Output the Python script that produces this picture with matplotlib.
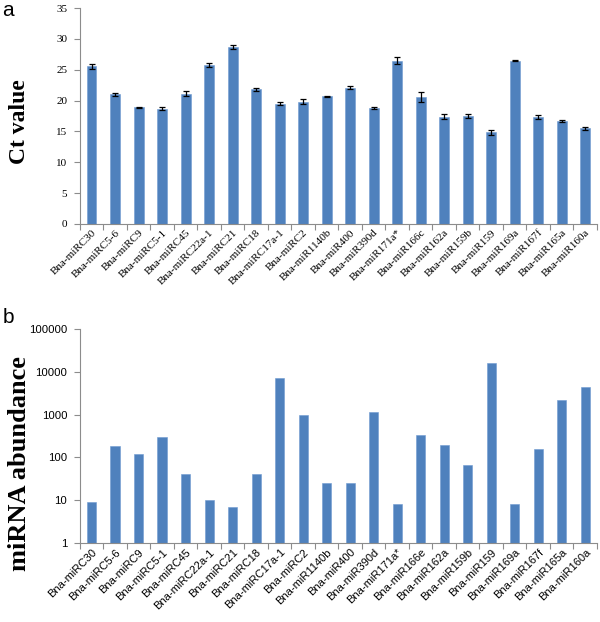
import numpy as np
import matplotlib
matplotlib.use('Agg')
import matplotlib.pyplot as plt

# panel a: Ct values from qRT-PCR
names_a = ['Bna-miRC30', 'Bna-miRC5-6', 'Bna-miRC9', 'Bna-miRC5-1', 'Bna-miRC45',
           'Bna-miRC22a-1', 'Bna-miRC21', 'Bna-miRC18', 'Bna-miRC17a-1', 'Bna-miRC2',
           'Bna-miR1140b', 'Bna-miR400', 'Bna-miR390d', 'Bna-miR171a*', 'Bna-miR166c',
           'Bna-miR162a', 'Bna-miR159b', 'Bna-miR159', 'Bna-miR169a', 'Bna-miR167f',
           'Bna-miR165a', 'Bna-miR160a']
ct = [25.6, 21.0, 18.9, 18.7, 21.1, 25.8, 28.7, 21.8, 19.5, 19.8, 20.7,
      22.1, 18.8, 26.5, 20.6, 17.4, 17.5, 14.9, 26.5, 17.3, 16.7, 15.5]
ct_err = [0.4, 0.3, 0.05, 0.3, 0.4, 0.3, 0.3, 0.2, 0.2, 0.4, 0.1,
          0.2, 0.1, 0.5, 0.8, 0.4, 0.3, 0.4, 0.05, 0.3, 0.15, 0.2]

# panel b: abundance from sequencing
names_b = ['Bna-miRC30', 'Bna-miRC5-6', 'Bna-miRC9', 'Bna-miRC5-1', 'Bna-miRC45',
           'Bna-miRC22a-1', 'Bna-miRC21', 'Bna-miRC18', 'Bna-miRC17a-1', 'Bna-miRC2',
           'Bna-miR1140b', 'Bna-miR400', 'Bna-miR390d', 'Bna-miR171a*', 'Bna-miR166e',
           'Bna-miR162a', 'Bna-miR159b', 'Bna-miR159', 'Bna-miR169a', 'Bna-miR167f',
           'Bna-miR165a', 'Bna-miR160a']
abundance = [9, 180, 120, 300, 42, 10, 7, 42, 7200, 1000, 25,
             25, 1150, 8, 330, 190, 67, 16500, 8, 160, 2200, 4500]

bar_color = '#4F81BD'
axis_color = '#8c8c8c'

fig = plt.figure(figsize=(6, 6.22), dpi=100)
ax1 = fig.add_axes([0.133, 0.640, 0.862, 0.347])
ax2 = fig.add_axes([0.133, 0.127, 0.862, 0.344])


def style_axis(ax, n):
    for s in ['top', 'right']:
        ax.spines[s].set_visible(False)
    for s in ['left', 'bottom']:
        ax.spines[s].set_color(axis_color)
        ax.spines[s].set_linewidth(0.8)
    ax.set_xlim(-0.5, n - 0.5)
    ax.set_xticks(np.arange(n))
    ax.set_xticks(np.arange(n + 1) - 0.5, minor=True)
    ax.tick_params(axis='x', which='major', length=0, pad=3)
    ax.tick_params(axis='x', which='minor', length=4, color=axis_color, width=0.8)
    ax.tick_params(axis='y', which='major', length=4, color=axis_color, width=0.8, pad=5)
    ax.tick_params(axis='y', which='minor', length=0)


x = np.arange(len(names_a))
ax1.bar(x, ct, width=0.42, color=bar_color, edgecolor='#6f9bd1', linewidth=0.4,
        yerr=ct_err, error_kw=dict(ecolor='black', elinewidth=0.9, capsize=2.2, capthick=0.9))
style_axis(ax1, len(names_a))
ax1.set_ylim(0, 35)
ax1.set_yticks(range(0, 36, 5))
ax1.set_xticklabels(names_a, rotation=45, ha='right', rotation_mode='anchor',
                    fontsize=8, family='Liberation Serif')
for t in ax1.get_yticklabels():
    t.set_family('Liberation Serif')
    t.set_fontsize(8)

x = np.arange(len(names_b))
ax2.bar(x, abundance, width=0.39, color=bar_color, edgecolor='#6f9bd1', linewidth=0.4)
ax2.set_yscale('log')
style_axis(ax2, len(names_b))
ax2.set_ylim(1, 100000)
ax2.set_yticks([1, 10, 100, 1000, 10000, 100000])
ax2.set_yticklabels(['1', '10', '100', '1000', '10000', '100000'],
                    fontsize=8.2, family='Liberation Sans')
ax2.set_xticklabels(names_b, rotation=45, ha='right', rotation_mode='anchor',
                    fontsize=8, family='Liberation Sans')

fig.text(0.032, 0.804, 'Ct value', family='Liberation Serif', fontweight='bold',
         fontsize=17, rotation=90, ha='center', va='center')
fig.text(0.032, 0.255, 'miRNA abundance', family='Liberation Serif', fontweight='bold',
         fontsize=19, rotation=90, ha='center', va='center')

fig.text(0.004, 0.998, 'a', fontsize=15, family='Liberation Sans', va='top')
fig.text(0.004, 0.505, 'b', fontsize=15, family='Liberation Sans', va='top')

fig.savefig('out.png', dpi=100)
